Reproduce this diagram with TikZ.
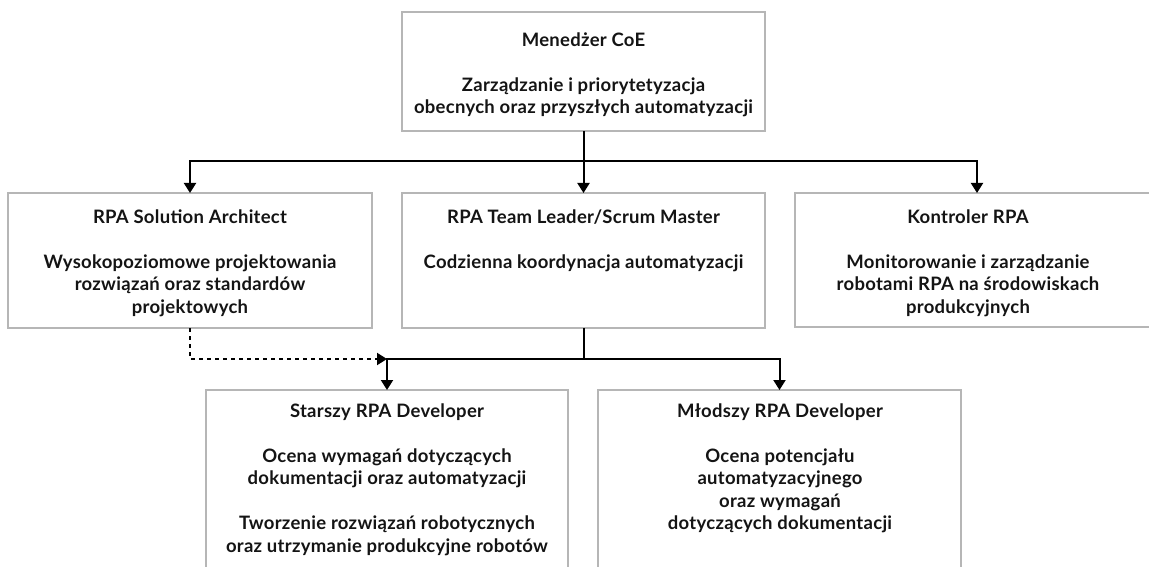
\documentclass[tikz,border=0pt]{standalone}
\usepackage{fontspec}
\setmainfont{Lato}[LetterSpace=1.5]
\usetikzlibrary{arrows.meta}
\definecolor{boxgray}{RGB}{182,182,182}
\definecolor{textblack}{RGB}{20,20,20}
\newcommand{\mystrut}{\rule{0pt}{16pt}}
\tikzset{
  box/.style={draw=boxgray, line width=2pt, fill=white, inner sep=0pt, outer sep=0pt},
  txt/.style={align=center, inner sep=0pt, anchor=north, text=textblack,
    font=\fontsize{18.5}{22.5}\selectfont\bfseries},
  conn/.style={line width=2pt, draw=black},
  arr/.style={conn, -{Triangle[width=12pt,length=10pt]}},
  dotconn/.style={arr, dash pattern=on 4pt off 4pt},
}
\begin{document}
\begin{tikzpicture}[x=1pt,y=-1pt]
\useasboundingbox (0,0) rectangle (1149,567);
\clip (0,0) rectangle (1149,567);
\fill[white] (0,0) rectangle (1149,567);
% boxes
\node[box, minimum width=363pt, minimum height=119pt] (top) at (583.5,71.5) {};
\node[box, minimum width=364pt, minimum height=135pt] (ls) at (190,260.5) {};
\node[box, minimum width=363pt, minimum height=135pt] (ms) at (583.5,260.5) {};
\node[box, minimum width=364pt, minimum height=134pt] (rs) at (977,260) {};
\node[box, minimum width=362pt, minimum height=240pt] (bl) at (387,510) {};
\node[box, minimum width=363pt, minimum height=240pt] (br) at (779.5,510) {};
% texts
\node[txt] (ttop) at (583.5,30) {\mystrut Menedżer CoE\\[22.5pt]Zarządzanie i priorytetyzacja\\obecnych oraz przyszłych automatyzacji};
\node[txt] (tls) at (190,207) {\mystrut RPA Solution Architect\\[22.5pt]Wysokopoziomowe projektowania\\rozwiązań oraz standardów\\projektowych};
\node[txt] (tms) at (583.5,207) {\mystrut RPA Team Leader/Scrum Master\\[22.5pt]Codzienna koordynacja automatyzacji};
\node[txt] (trs) at (968,207) {\mystrut Kontroler RPA\\[22.5pt]Monitorowanie i zarządzanie\\robotami RPA na środowiskach\\produkcyjnych};
\node[txt] (tbl) at (387,401) {\mystrut Starszy RPA Developer\\[22.5pt]Ocena wymagań dotyczących\\dokumentacji oraz automatyzacji\\[22.5pt]Tworzenie rozwiązań robotycznych\\oraz utrzymanie produkcyjne robotów};
\node[txt] (tbr) at (780,401) {\mystrut Młodszy RPA Developer\\[22.5pt]Ocena potencjału\\automatyzacyjnego\\oraz wymagań\\dotyczących dokumentacji};
% junctions
\coordinate (j1) at (583.5,161);
\coordinate (j2) at (583.5,359);
\coordinate (dj) at (387,359);
% connectors
\draw[conn] (top.south) -- (j1);
\draw[arr] (j1) -| (ls.north);
\draw[arr] (j1) -- (ms.north);
\draw[arr] (j1) -| (rs.north);
\draw[conn] (ms.south) -- (j2);
\draw[arr] (j2) -| (bl.north);
\draw[arr] (j2) -| (br.north);
\draw[dotconn] (ls.south) |- (dj);
\end{tikzpicture}
\end{document}
